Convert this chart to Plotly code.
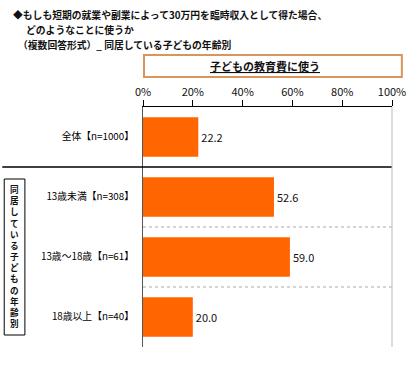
import plotly.graph_objects as go

categories = ["全体【n=1000】", "13歳未満【n=308】", "13歳～18歳【n=61】", "18歳以上【n=40】"]
values = [22.2, 52.6, 59.0, 20.0]
tick_vals = [0, 20, 40, 60, 80, 100]
tick_text = ["0%", "20%", "40%", "60%", "80%", "100%"]
title_lines = ["◆もしも短期の就業や副業によって30万円を臨時収入として得た場合、",
               "どのようなことに使うか",
               "（複数回答形式）_ 同居している子どもの年齢別"]
series_title = "子どもの教育費に使う"
group_label = "同居している子どもの年齢別"

W, H = 418, 369
L, R, T, B = 143, 396, 107, 347

def fx(px):
    return (px - L) / (R - L)

def fy(py):
    return (B - py) / (B - T)

JP = "Noto Sans CJK JP"

fig = go.Figure()
fig.add_trace(go.Bar(
    y=categories, x=values, orientation="h",
    marker=dict(color="#FF6600", line=dict(width=0)),
    width=0.66,
    text=[f"{v:.1f}" for v in values], textposition="outside",
    textfont=dict(family=JP, size=11, color="#111"),
    cliponaxis=False,
))

shapes = []
shapes.append(dict(type="line", xref="paper", yref="y", x0=fx(0), x1=1, y0=0.5, y1=0.5,
                   line=dict(color="#000", width=1.3)))
for yv in [1.5, 2.5]:
    shapes.append(dict(type="line", xref="paper", yref="y", x0=0, x1=1, y0=yv, y1=yv,
                       line=dict(color="#aaa", width=1, dash="dot")))
shapes.append(dict(type="line", xref="paper", yref="paper", x0=1, x1=1, y0=0, y1=1,
                   line=dict(color="#bbb", width=1)))
shapes.append(dict(type="rect", xref="paper", yref="paper", x0=fx(144), x1=fx(406), y0=fy(77), y1=fy(55),
                   line=dict(color="#D9955A", width=2), fillcolor="white"))
shapes.append(dict(type="rect", xref="paper", yref="paper", x0=fx(2), x1=fx(23), y0=fy(335), y1=fy(179),
                   line=dict(color="#000", width=1), fillcolor="white"))

annotations = []
title_pos = [(9, 15), (22, 30), (14, 45)]
for (xp, yp), t in zip(title_pos, title_lines):
    annotations.append(dict(text=f"<b>{t}</b>", xref="paper", yref="paper", x=fx(xp), y=fy(yp),
                            xanchor="left", yanchor="middle", showarrow=False,
                            font=dict(family=JP, size=9.8, color="#111")))
annotations.append(dict(text=f"<b><u>{series_title}</u></b>", xref="paper", yref="paper",
                        x=fx(267), y=fy(66), xanchor="center", yanchor="middle", showarrow=False,
                        font=dict(family=JP, size=11, color="#111")))
annotations.append(dict(text="<b>" + "<br>".join(group_label) + "</b>", xref="paper", yref="paper",
                        x=fx(12.5), y=fy(256), xanchor="center", yanchor="middle", showarrow=False,
                        font=dict(family=JP, size=8.6, color="#111")))

fig.update_layout(
    width=W, height=H,
    margin=dict(l=L, r=W - R, t=T, b=H - B, pad=0),
    paper_bgcolor="white", plot_bgcolor="white",
    showlegend=False,
    shapes=shapes, annotations=annotations,
    xaxis=dict(side="top", range=[0, 100], tickvals=tick_vals, ticktext=tick_text,
               showgrid=False, zeroline=False, showline=True, linecolor="#000", linewidth=1,
               ticks="outside", ticklen=6, tickcolor="#000",
               tickfont=dict(family=JP, size=11, color="#111")),
    yaxis=dict(autorange="reversed", showgrid=False, zeroline=False, showline=True,
               linecolor="#555", linewidth=1, ticks="", ticklabelstandoff=6,
               tickfont=dict(family=JP, size=9.8, color="#000")),
    bargap=0.34,
)

fig.write_html("out.html", config={"displayModeBar": False},
               post_script="document.body.style.margin='0';")
